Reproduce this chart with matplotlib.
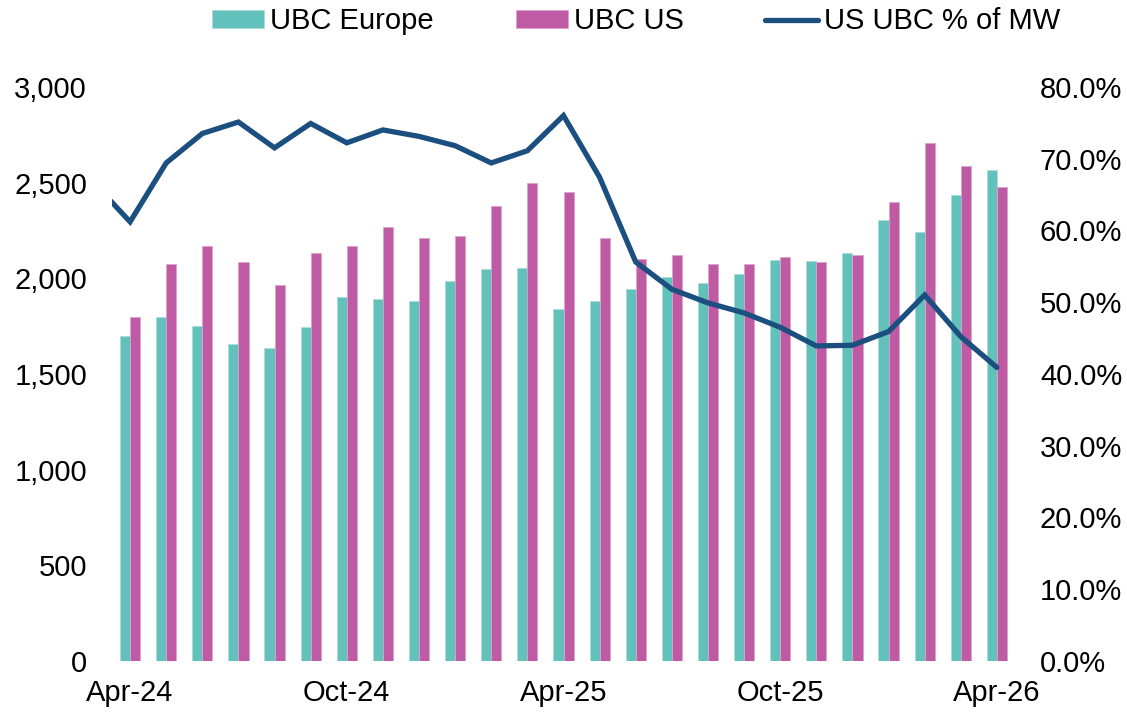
import matplotlib.pyplot as plt
import numpy as np
from matplotlib.ticker import FuncFormatter, MultipleLocator

plt.rcParams['font.family'] = ['Liberation Sans', 'DejaVu Sans']

# months Apr-24 .. Apr-26
months = ['Apr-24', 'May-24', 'Jun-24', 'Jul-24', 'Aug-24', 'Sep-24', 'Oct-24', 'Nov-24',
          'Dec-24', 'Jan-25', 'Feb-25', 'Mar-25', 'Apr-25', 'May-25', 'Jun-25', 'Jul-25',
          'Aug-25', 'Sep-25', 'Oct-25', 'Nov-25', 'Dec-25', 'Jan-26', 'Feb-26', 'Mar-26', 'Apr-26']
ubc_europe = [1700, 1798, 1751, 1657, 1638, 1744, 1901, 1890, 1882, 1988, 2049, 2053, 1838,
              1883, 1943, 2009, 1976, 2021, 2094, 2092, 2133, 2303, 2243, 2433, 2565]
ubc_us = [1800, 2077, 2166, 2087, 1965, 2131, 2166, 2267, 2212, 2222, 2377, 2499, 2453,
          2212, 2100, 2122, 2077, 2077, 2110, 2087, 2122, 2398, 2708, 2586, 2476]
# line starts one month earlier (Mar-24), clipped at the left edge
us_pct_months = ['Mar-24'] + months
us_pct = [66.6, 61.2, 69.4, 73.5, 75.1, 71.5, 74.9, 72.2, 74.0, 73.1, 71.8, 69.4, 71.1,
          76.0, 67.4, 55.6, 51.8, 49.9, 48.5, 46.5, 43.9, 44.0, 45.9, 51.0, 45.2, 40.9]
tick_labels = ['Apr-24', 'Oct-24', 'Apr-25', 'Oct-25', 'Apr-26']

teal = '#62C1BA'
magenta = '#BF5BA4'
navy = '#1B4F7F'

x = np.arange(len(months))
x_line = np.arange(-1, len(months))
w = 0.28
fs = 21

fig = plt.figure(figsize=(11.27, 7.12), dpi=100)
ax = fig.add_axes([0.0994, 0.0716, 0.8012, 0.8064])

ax.bar(x - w / 2, ubc_europe, width=w, color=teal, edgecolor='#A9DDD9', linewidth=0.6, label='UBC Europe')
ax.bar(x + w / 2, ubc_us, width=w, color=magenta, edgecolor='#DDA3CC', linewidth=0.6, label='UBC US')

ax.set_ylim(0, 3000)
ax.yaxis.set_major_locator(MultipleLocator(500))
ax.yaxis.set_major_formatter(FuncFormatter(lambda v, p: f'{v:,.0f}'))
ax.set_xlim(-0.5, len(months) - 0.5)
ax.set_xticks([months.index(t) for t in tick_labels])
ax.set_xticklabels(tick_labels)

ax2 = ax.twinx()
ax2.plot(x_line, us_pct, color=navy, linewidth=3.8, solid_joinstyle='miter',
         solid_capstyle='round', label='US UBC % of MW')
ax2.set_ylim(0, 80)
ax2.yaxis.set_major_locator(MultipleLocator(10))
ax2.yaxis.set_major_formatter(FuncFormatter(lambda v, p: f'{v:.1f}%'))
ax2.set_xlim(-0.5, len(months) - 0.5)

for a in (ax, ax2):
    for s in a.spines.values():
        s.set_visible(False)
ax.tick_params(axis='y', length=0, labelsize=fs, pad=18)
ax.tick_params(axis='x', length=0, labelsize=fs, pad=13)
ax2.tick_params(axis='y', length=0, labelsize=fs, pad=18)

h1, l1 = ax.get_legend_handles_labels()
h2, l2 = ax2.get_legend_handles_labels()
fig.legend(h1 + h2, l1 + l2, loc='center', bbox_to_anchor=(0.5643, 0.97), ncol=3,
           frameon=False, fontsize=fs, handlelength=1.8, handleheight=0.55,
           handletextpad=0.2, columnspacing=2.8)

fig.savefig('out.png', dpi=100)
